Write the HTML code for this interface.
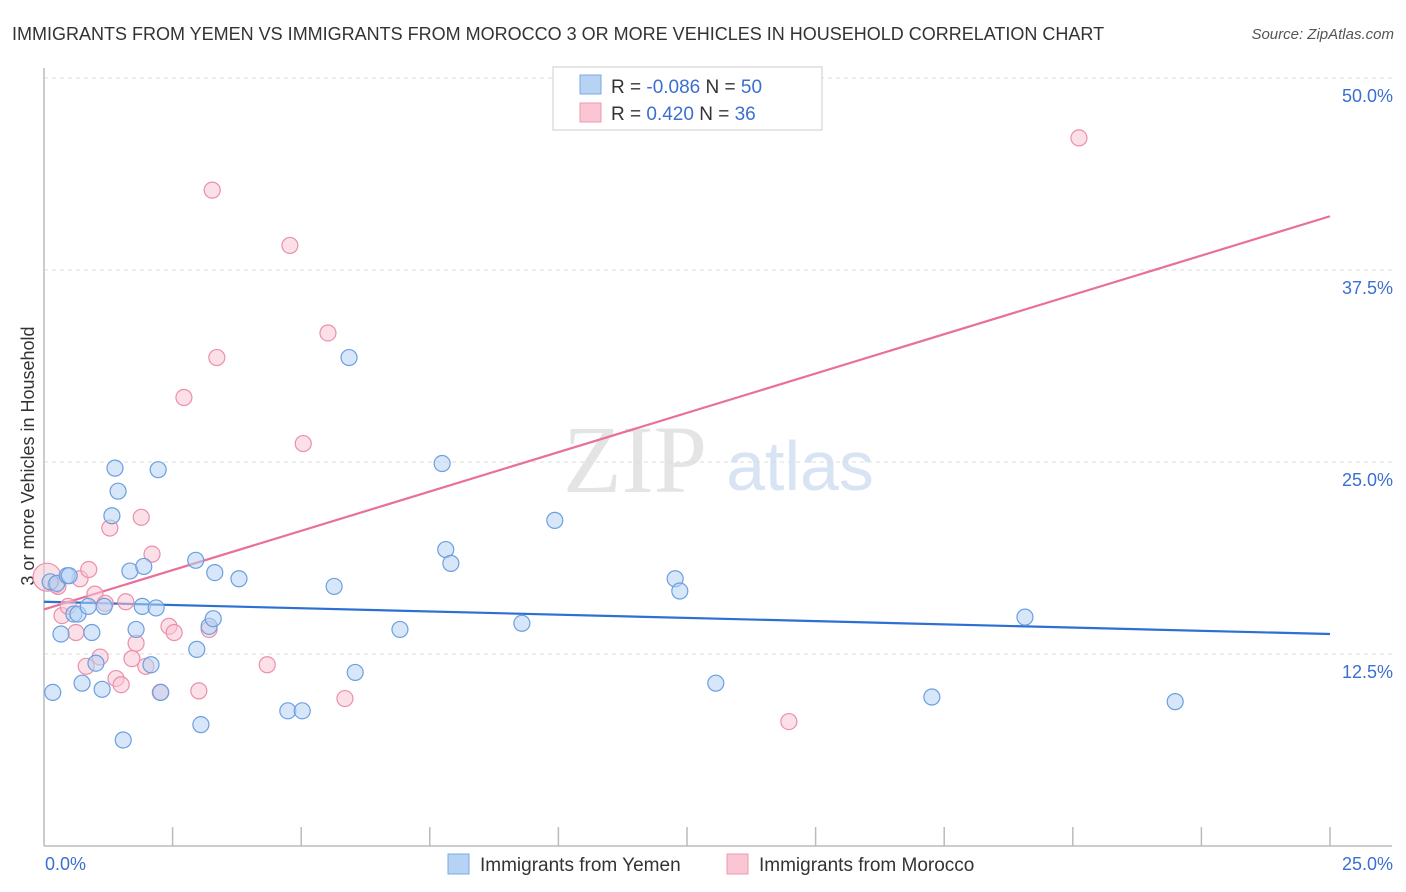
<!DOCTYPE html>
<html><head><meta charset="utf-8">
<style>
body{margin:0;background:#fff;font-family:"Liberation Sans",sans-serif;}
svg{display:block}
</style></head>
<body>
<svg id="chart" width="1406" height="892" xmlns="http://www.w3.org/2000/svg">
<text x="12" y="40" font-size="18" fill="#333">IMMIGRANTS FROM YEMEN VS IMMIGRANTS FROM MOROCCO 3 OR MORE VEHICLES IN HOUSEHOLD CORRELATION CHART</text>
<text x="1394" y="39" font-size="15" fill="#555" font-style="italic" text-anchor="end">Source: ZipAtlas.com</text>
<text x="635" y="492" font-size="96" fill="#e4e4e4" font-family="Liberation Serif,serif" text-anchor="middle">ZIP</text>
<text x="800" y="490" font-size="70" fill="#d8e4f4" text-anchor="middle">atlas</text>
<text transform="translate(34,456) rotate(-90)" font-size="18" fill="#333" text-anchor="middle">3 or more Vehicles in Household</text>
<g id="grid"></g><g id="axes"></g><g id="lines"></g><g id="pts"></g>
<g>
<rect x="553" y="67" width="269" height="63" fill="#fff" stroke="#ccc"/>
<rect x="580" y="75" width="21" height="19" fill="#b7d3f4" stroke="#7aa8e0"/>
<rect x="580" y="103" width="21" height="19" fill="#fac6d4" stroke="#eb9ab3"/>
<text x="611" y="93" font-size="19" fill="#333">R = <tspan fill="#3b6fd0">-0.086</tspan>    N = <tspan fill="#3b6fd0">50</tspan></text>
<text x="611" y="120" font-size="19" fill="#333">R =   <tspan fill="#3b6fd0">0.420</tspan>    N =  <tspan fill="#3b6fd0">36</tspan></text>
</g>
<g>
<rect x="448" y="854" width="21" height="20" fill="#b7d3f4" stroke="#7aa8e0"/>
<text x="480" y="871" font-size="19" fill="#333">Immigrants from Yemen</text>
<rect x="727" y="854" width="21" height="20" fill="#fac6d4" stroke="#eb9ab3"/>
<text x="759" y="871" font-size="19" fill="#333">Immigrants from Morocco</text>
</g>
</svg>
<script>
const yemenX=[0.12,0.25,0.45,0.17,0.33,0.58,0.66,0.74,0.86,0.93,1.01,1.13,1.17,1.32,1.38,1.44,1.54,1.67,1.79,1.91,1.94,2.08,2.18,2.22,2.27,2.95,2.97,3.05,3.21,3.29,3.32,3.79,4.74,5.02,5.64,5.93,6.05,6.92,7.74,7.81,7.91,9.29,9.93,12.27,12.36,13.06,17.26,19.07,21.99,0.49];
const yemenY=[17.2,17.1,17.6,10.0,13.8,15.1,15.1,10.6,15.6,13.9,11.9,10.2,15.6,21.5,24.6,23.1,6.9,17.9,14.1,15.6,18.2,11.8,15.5,24.5,10.0,18.6,12.8,7.9,14.3,14.8,17.8,17.4,8.8,8.8,16.9,31.8,11.3,14.1,24.9,19.3,18.4,14.5,21.2,17.4,16.6,10.6,9.7,14.9,9.4,17.6];
const moroccoX=[0.06,0.23,0.27,0.35,0.47,0.62,0.70,0.82,0.87,0.99,1.09,1.19,1.28,1.40,1.50,1.59,1.71,1.79,1.89,1.98,2.10,2.26,2.43,2.53,2.72,3.01,3.21,3.27,3.36,4.34,4.78,5.04,5.52,5.85,14.48,20.12];
const moroccoY=[17.5,17.0,16.9,15.0,15.6,13.9,17.4,11.7,18.0,16.4,12.3,15.8,20.7,10.9,10.5,15.9,12.2,13.2,21.4,11.7,19.0,10.0,14.3,13.9,29.2,10.1,14.1,42.7,31.8,11.8,39.1,26.2,33.4,9.6,8.1,46.1];
const yemenTrend=[15.9,13.8];
const moroccoTrend=[15.4,41.0];
const yTicks=[12.5,25.0,37.5,50.0];
const xTickVals=[0,2.5,5,7.5,10,12.5,15,17.5,20,22.5,25];
const NS="http://www.w3.org/2000/svg";
const X=v=>44+v*51.44, Y=v=>846-v*15.36;
function mk(t,a,p){const e=document.createElementNS(NS,t);for(const k in a)e.setAttribute(k,a[k]);document.getElementById(p).appendChild(e);return e;}
yTicks.forEach(t=>{
 const l=mk('line',{x1:44,x2:1392,y1:Y(t),y2:Y(t),stroke:'#ddd','stroke-dasharray':'4,4'},'grid');
 
 
 const tx=mk('text',{x:1393,y:Y(t)+24,'font-size':18,fill:'#3b6fd0','text-anchor':'end'},'grid');
 tx.textContent=t.toFixed(1)+'%';
 
 
});
const ax=mk('line',{x1:44,x2:1392,y1:846,y2:846,stroke:'#bbb','stroke-width':1.5},'axes');


const ay=mk('line',{x1:44,x2:44,y1:68,y2:846,stroke:'#bbb','stroke-width':1.5},'axes');


xTickVals.slice(1).forEach(t=>{
 const l=mk('line',{x1:X(t),x2:X(t),y1:827,y2:846,stroke:'#bbb','stroke-width':1.5},'axes');
 
 
});
[[0,'start'],[25,'end']].forEach(([t,a])=>{
 const tx=mk('text',{x:t==0?45:1393,y:870,'font-size':18,fill:'#3b6fd0','text-anchor':a},'axes');
 tx.textContent=t.toFixed(1)+'%';
 
 
});
function pts(xs,ys,fill,stroke,name){
 xs.forEach((x,i)=>{
  const c=mk('circle',{cx:X(x),cy:Y(ys[i]),r:(name==='morocco-point'&&i===0)?14:8,fill:fill,'fill-opacity':0.55,stroke:stroke,'stroke-width':1.2},'pts');
  
  
 });
}
pts(moroccoX,moroccoY,'#fac6d4','#eb8fac','morocco-point');
pts(yemenX,yemenY,'#b7d3f4','#6b9fe0','yemen-point');
const l1=mk('line',{x1:X(0),x2:X(25),y1:Y(yemenTrend[0]),y2:Y(yemenTrend[1]),stroke:'#2d6fd2','stroke-width':2.2},'lines');


const l2=mk('line',{x1:X(0),x2:X(25),y1:Y(moroccoTrend[0]),y2:Y(moroccoTrend[1]),stroke:'#e8709a','stroke-width':2.2},'lines');


</script>
</body></html>
